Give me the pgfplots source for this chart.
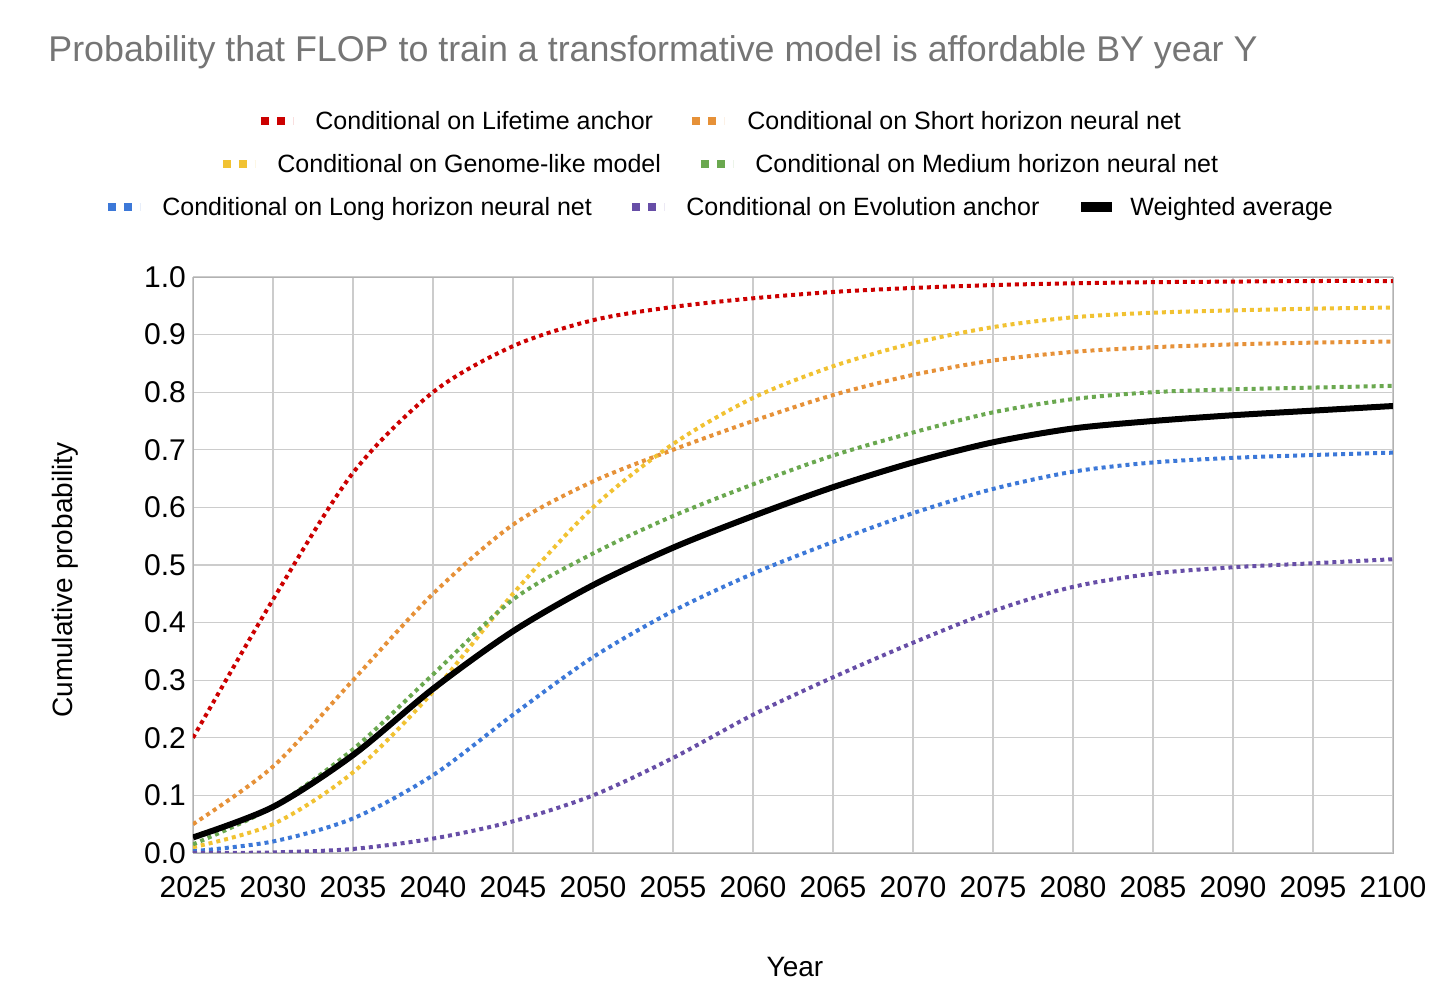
\documentclass[border=0pt]{standalone}
\usepackage{pgfplots}
\pgfplotsset{compat=1.18}
\usepackage{fontspec}
\setmainfont{Liberation Sans}
\definecolor{cred}{RGB}{204,0,0}
\definecolor{corange}{RGB}{230,145,56}
\definecolor{cyellow}{RGB}{241,194,50}
\definecolor{cgreen}{RGB}{106,168,79}
\definecolor{cblue}{RGB}{60,120,216}
\definecolor{cpurple}{RGB}{103,78,167}
\definecolor{ctitle}{RGB}{117,117,117}
\begin{document}
\begin{tikzpicture}
\begin{axis}[name=a, scale only axis, width=600pt, height=288pt,
  xmin=2025, xmax=2100, ymin=0, ymax=1,
  xtick={2025,2030,...,2100}, ytick={0,0.1,...,1.0},
  grid=major, grid style={color=black!20, line width=0.6pt},
  axis line style={black!30}, tick style={draw=none},
  /pgf/number format/assume math mode=true,
  xticklabel style={font=\fontsize{15}{17}\selectfont, yshift=-8pt, /pgf/number format/set thousands separator={}},
  yticklabel style={font=\fontsize{15}{17}\selectfont, /pgf/number format/.cd, fixed, fixed zerofill, precision=1},
  xtick pos=bottom]
\addplot[cred, smooth, line width=2pt, dash pattern=on 2pt off 2pt] coordinates {(2025,.20)(2030,.44)(2035,.66)(2040,.80)(2045,.88)(2050,.925)(2055,.948)(2060,.963)(2065,.974)(2070,.981)(2075,.986)(2080,.989)(2085,.991)(2090,.992)(2095,.993)(2100,.993)};
\addplot[corange, smooth, line width=2pt, dash pattern=on 2pt off 2pt] coordinates {(2025,.05)(2030,.15)(2035,.30)(2040,.45)(2045,.57)(2050,.645)(2055,.70)(2060,.75)(2065,.795)(2070,.83)(2075,.855)(2080,.87)(2085,.878)(2090,.883)(2095,.886)(2100,.888)};
\addplot[cyellow, smooth, line width=2pt, dash pattern=on 2pt off 2pt] coordinates {(2025,.01)(2030,.05)(2035,.14)(2040,.28)(2045,.45)(2050,.60)(2055,.71)(2060,.79)(2065,.845)(2070,.885)(2075,.913)(2080,.93)(2085,.938)(2090,.942)(2095,.945)(2100,.947)};
\addplot[cgreen, smooth, line width=2pt, dash pattern=on 2pt off 2pt] coordinates {(2025,.015)(2030,.08)(2035,.18)(2040,.31)(2045,.44)(2050,.52)(2055,.585)(2060,.64)(2065,.69)(2070,.73)(2075,.765)(2080,.788)(2085,.80)(2090,.805)(2095,.808)(2100,.811)};
\addplot[cblue, smooth, line width=2pt, dash pattern=on 2pt off 2pt] coordinates {(2025,.003)(2030,.02)(2035,.06)(2040,.135)(2045,.24)(2050,.34)(2055,.42)(2060,.485)(2065,.54)(2070,.59)(2075,.632)(2080,.662)(2085,.678)(2090,.686)(2095,.691)(2100,.695)};
\addplot[cpurple, smooth, line width=2pt, dash pattern=on 2pt off 2pt] coordinates {(2025,0)(2030,.001)(2035,.007)(2040,.025)(2045,.055)(2050,.10)(2055,.165)(2060,.24)(2065,.305)(2070,.365)(2075,.42)(2080,.462)(2085,.485)(2090,.496)(2095,.503)(2100,.51)};
\addplot[black, smooth, line width=3pt] coordinates {(2025,.027)(2030,.08)(2035,.17)(2040,.285)(2045,.385)(2050,.465)(2055,.53)(2060,.585)(2065,.635)(2070,.678)(2075,.713)(2080,.737)(2085,.75)(2090,.76)(2095,.768)(2100,.776)};
\end{axis}
\begin{scope}[shift={(a.south west)}, x=0.5pt, y=-0.5pt, shift={(-193,-853)}]
\path[use as bounding box] (0,0) rectangle (1456,994);
\node[anchor=base west, text=ctitle, font=\fontsize{17.9}{20}\selectfont, inner sep=0] at (48,62) {Probability that FLOP to train a transformative model is affordable BY year Y};
\node[rotate=90, font=\fontsize{14}{16}\selectfont] at (65,580) {Cumulative probability};
\node[font=\fontsize{14}{16}\selectfont] at (795,967) {Year};
\tikzset{lt/.style={anchor=base west, font=\fontsize{12.5}{14}\selectfont, inner sep=0}}
\draw[cred, line width=4pt, dash pattern=on 4pt off 4pt] (261,121) -- (293,121);
\node[lt] at (315,130) {Conditional on Lifetime anchor};
\draw[corange, line width=4pt, dash pattern=on 4pt off 4pt] (692,121) -- (724,121);
\node[lt] at (747,130) {Conditional on Short horizon neural net};
\draw[cyellow, line width=4pt, dash pattern=on 4pt off 4pt] (223,164) -- (255,164);
\node[lt] at (277,173) {Conditional on Genome-like model};
\draw[cgreen, line width=4pt, dash pattern=on 4pt off 4pt] (701,164) -- (733,164);
\node[lt] at (755,173) {Conditional on Medium horizon neural net};
\draw[cblue, line width=4pt, dash pattern=on 4pt off 4pt] (108,207) -- (140,207);
\node[lt] at (162,216) {Conditional on Long horizon neural net};
\draw[cpurple, line width=4pt, dash pattern=on 4pt off 4pt] (632,207) -- (664,207);
\node[lt] at (686,216) {Conditional on Evolution anchor};
\draw[black, line width=5pt] (1081,207) -- (1112,207);
\node[lt] at (1130,216) {Weighted average};
\end{scope}
\end{tikzpicture}
\end{document}
